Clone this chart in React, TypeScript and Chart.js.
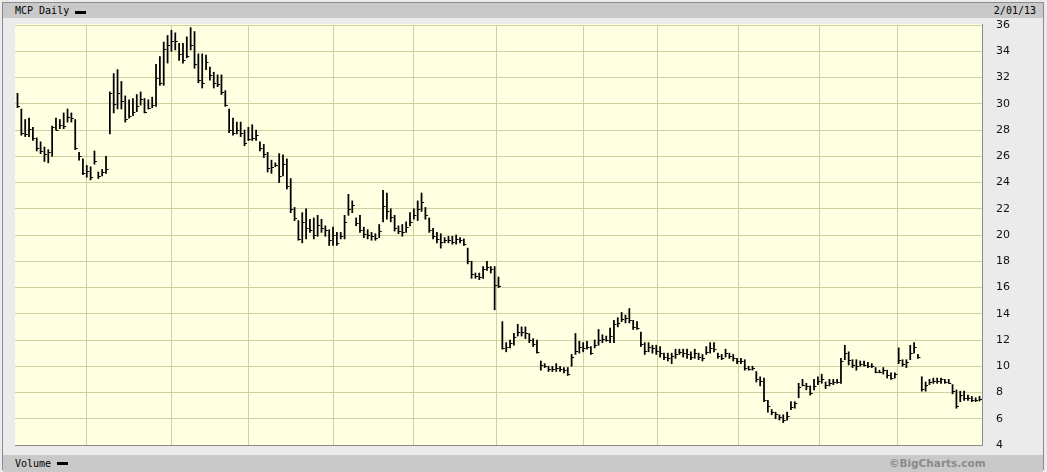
import React, { useEffect, useRef } from "react";
import { Chart, registerables } from "chart.js";

Chart.register(...registerables);

// ---- text ----
const symbolLabel = "MCP Daily";
const dateLabel = "2/01/13";
const volumeLabel = "Volume";
const creditLabel = "\u00A9BigCharts.com";

// ---- data (daily bars, Feb 3 2012 .. Feb 1 2013) ----
const highs = [
  30.8, 29.6, 28.8, 28.9, 28.2, 27.4, 27.1, 26.7, 26.5, 28.3,
  28.9, 28.8, 29.3, 29.6, 29.3, 28.8, 26.3, 25.8, 25.3, 25.2,
  26.4, 24.8, 25.0, 26.0, 30.9, 32.3, 32.6, 31.7, 30.6, 30.3,
  30.4, 30.7, 30.9, 30.4, 30.3, 30.5, 33.0, 33.6, 34.7, 35.2,
  35.6, 35.4, 34.6, 34.6, 35.1, 35.8, 35.5, 33.8, 33.8, 33.7,
  32.8, 32.4, 32.2, 32.2, 31.0, 29.6, 28.9, 28.6, 28.6, 28.0,
  28.2, 28.4, 28.0, 27.1, 26.9, 26.3, 25.7, 25.5, 26.2, 26.1,
  25.8, 24.3, 22.1, 21.1, 21.7, 22.0, 21.2, 21.3, 21.5, 21.2,
  20.7, 20.4, 20.6, 20.2, 20.2, 21.5, 23.1, 22.6, 21.3, 21.5,
  20.6, 20.4, 20.2, 20.1, 20.8, 23.4, 23.2, 22.0, 21.5, 20.7,
  20.8, 21.0, 21.7, 22.0, 22.6, 23.2, 22.1, 21.3, 20.5, 20.2,
  20.1, 19.8, 19.9, 19.9, 20.0, 19.8, 19.7, 19.0, 18.0, 17.1,
  17.1, 17.6, 18.0, 17.6, 17.6, 16.8, 13.4, 11.8, 12.0, 12.5,
  13.2, 13.0, 13.0, 12.5, 12.1, 12.0, 10.4, 10.2, 10.0, 10.0,
  10.2, 10.0, 9.9, 9.9, 10.9, 12.5, 11.9, 11.8, 11.9, 11.5,
  12.0, 12.8, 12.4, 12.3, 12.9, 13.5, 13.7, 14.1, 13.9, 14.4,
  13.5, 13.4, 12.6, 11.8, 11.8, 11.6, 11.6, 11.5, 11.0, 11.0,
  11.0, 11.3, 11.3, 11.3, 11.3, 11.1, 11.3, 11.0, 10.9, 11.5,
  11.8, 11.8, 11.0, 10.9, 11.3, 11.0, 10.9, 10.6, 10.6, 10.5,
  10.0, 10.0, 9.6, 9.2, 9.1, 7.4, 6.7, 6.5, 6.3, 6.3,
  6.5, 7.3, 7.3, 8.7, 9.0, 8.7, 8.5, 9.0, 9.2, 9.4,
  8.8, 9.0, 9.0, 9.0, 10.6, 11.6, 11.1, 10.5, 10.5, 10.4,
  10.4, 10.3, 10.2, 9.9, 9.7, 9.9, 9.7, 9.5, 9.5, 11.4,
  10.5, 10.5, 11.6, 11.8, 10.9, 9.2, 8.8, 9.0, 9.1, 9.1,
  9.1, 9.0, 9.0, 8.6, 8.2, 8.1, 8.1, 7.8, 7.7, 7.6,
  7.7,
];
const lows = [
  29.7, 27.6, 27.5, 27.5, 27.2, 26.4, 26.2, 25.6, 25.5, 26.0,
  28.0, 28.1, 28.1, 28.6, 28.6, 26.5, 25.7, 24.6, 24.4, 24.2,
  25.4, 24.3, 24.5, 24.7, 27.7, 29.3, 29.6, 29.6, 28.6, 28.9,
  29.1, 29.4, 29.9, 29.3, 29.6, 29.7, 29.8, 31.4, 31.4, 33.1,
  34.0, 34.1, 33.3, 33.1, 33.5, 34.1, 32.7, 31.6, 31.2, 32.6,
  31.8, 31.2, 31.3, 30.7, 29.8, 27.8, 27.6, 27.7, 27.5, 26.8,
  27.2, 27.2, 27.2, 26.4, 25.9, 24.8, 24.7, 25.2, 24.0, 24.5,
  23.5, 21.7, 21.1, 19.6, 19.4, 19.7, 20.2, 19.7, 19.9, 20.2,
  19.9, 19.2, 19.2, 19.2, 19.7, 19.7, 21.5, 21.7, 20.7, 20.2,
  19.8, 19.7, 19.6, 19.6, 19.8, 21.0, 21.2, 21.0, 20.3, 20.1,
  19.9, 20.2, 20.7, 21.2, 21.1, 21.8, 21.2, 20.2, 19.7, 19.4,
  19.0, 19.4, 19.4, 19.3, 19.3, 19.4, 19.2, 17.8, 16.7, 16.7,
  16.6, 16.7, 17.3, 17.1, 14.3, 16.0, 11.3, 11.1, 11.4, 11.6,
  12.3, 12.3, 12.1, 11.8, 11.5, 11.0, 9.7, 9.9, 9.6, 9.6,
  9.6, 9.6, 9.5, 9.3, 10.0, 10.9, 11.0, 11.1, 11.3, 10.9,
  11.4, 11.6, 11.8, 11.9, 11.8, 11.8, 13.0, 13.4, 13.3, 13.3,
  12.8, 12.8, 11.5, 10.9, 11.1, 11.0, 10.9, 10.7, 10.5, 10.4,
  10.2, 10.6, 10.9, 10.7, 10.6, 10.5, 10.6, 10.5, 10.4, 10.9,
  11.0, 11.1, 10.6, 10.5, 10.7, 10.6, 10.4, 10.2, 10.2, 9.7,
  9.7, 9.7, 8.8, 8.5, 7.3, 6.5, 6.3, 6.0, 5.9, 5.7,
  5.9, 6.7, 6.8, 7.6, 8.5, 8.2, 7.8, 8.2, 8.6, 8.7,
  8.3, 8.5, 8.6, 8.7, 8.7, 10.5, 10.1, 9.9, 9.7, 10.0,
  10.0, 9.9, 9.9, 9.5, 9.5, 9.4, 9.1, 9.0, 9.1, 10.2,
  10.0, 9.9, 10.5, 11.0, 10.6, 8.1, 8.1, 8.6, 8.7, 8.7,
  8.7, 8.7, 8.7, 7.9, 6.8, 7.3, 7.4, 7.4, 7.3, 7.3,
  7.35,
];
const closes = [
  29.8, 27.8, 27.7, 28.1, 27.4, 26.6, 26.4, 26.2, 26.3, 28.2,
  28.0, 28.4, 28.3, 29.0, 28.9, 26.6, 26.0, 24.7, 24.9, 24.4,
  25.6, 24.5, 24.8, 25.0, 30.8, 30.0, 30.8, 30.2, 28.8, 29.1,
  29.4, 29.8, 30.4, 29.4, 29.7, 29.9, 32.0, 31.6, 34.2, 34.5,
  34.8, 34.8, 33.8, 33.3, 33.6, 34.5, 33.0, 31.8, 31.6, 33.2,
  32.2, 31.6, 31.5, 30.9, 29.9, 28.0, 27.8, 28.0, 27.8, 27.0,
  27.3, 27.4, 27.6, 26.6, 26.2, 25.1, 25.2, 25.3, 24.5, 25.4,
  23.7, 22.0, 21.3, 19.7, 21.0, 20.5, 20.4, 20.0, 20.8, 20.5,
  20.4, 19.6, 20.0, 19.4, 19.9, 21.0, 22.0, 22.3, 20.9, 20.4,
  20.1, 20.0, 19.9, 19.8, 20.3, 22.2, 21.8, 21.4, 20.5, 20.3,
  20.2, 20.6, 21.0, 21.5, 22.0, 22.5, 21.5, 20.4, 19.9, 19.7,
  19.5, 19.6, 19.6, 19.5, 19.7, 19.6, 19.3, 18.0, 17.0, 16.9,
  16.8, 17.4, 17.6, 17.4, 16.2, 16.1, 11.4, 11.5, 11.8, 12.2,
  12.6, 12.6, 12.5, 12.0, 11.7, 11.1, 10.1, 10.0, 9.8, 9.8,
  9.9, 9.8, 9.7, 9.4, 10.7, 11.2, 11.5, 11.4, 11.5, 11.0,
  11.6, 12.0, 12.1, 12.0, 12.3, 13.2, 13.3, 13.6, 13.7, 13.5,
  13.0, 12.9, 11.7, 11.2, 11.5, 11.4, 11.2, 11.0, 10.7, 10.6,
  10.8, 10.9, 11.1, 11.0, 10.9, 10.7, 11.0, 10.7, 10.6, 11.1,
  11.4, 11.3, 10.8, 10.6, 11.0, 10.8, 10.6, 10.4, 10.4, 9.9,
  9.8, 9.9, 9.0, 8.9, 7.4, 7.0, 6.5, 6.4, 6.1, 5.9,
  6.2, 6.9, 7.2, 8.4, 8.6, 8.5, 8.0, 8.5, 8.9, 9.0,
  8.6, 8.7, 8.8, 8.8, 10.4, 11.0, 10.5, 10.1, 10.0, 10.2,
  10.1, 10.0, 10.0, 9.6, 9.6, 9.7, 9.3, 9.1, 9.4, 10.5,
  10.2, 10.3, 11.0, 11.5, 10.7, 8.3, 8.6, 8.8, 8.9, 8.9,
  9.0, 8.8, 8.7, 8.1, 7.0, 7.8, 7.6, 7.6, 7.4, 7.4,
  7.5,
];

// month-start gridlines, in bar-index units (Mar .. Jan)
const monthGridIdx = [18, 40, 60, 82, 103, 124.4, 147.2, 166.3, 187.5, 208.3, 228.6];
const yMin = 4;
const yMax = 36;
const yStep = 2;

const W = 1047;
const H = 472;

export default function App() {
  const ref = useRef<HTMLCanvasElement | null>(null);

  useEffect(() => {
    document.body.style.margin = "0";
    const canvas = ref.current;
    if (!canvas) return;

    const plotFrame = {
      id: "plotFrame",
      beforeDraw(chart: any) {
        const { ctx, chartArea: a } = chart;
        ctx.save();
        ctx.fillStyle = "#ffffe2";
        ctx.fillRect(a.left, a.top - 1, a.right - a.left, a.bottom - a.top + 1);
        ctx.restore();
      },
      afterDraw(chart: any) {
        const { ctx, chartArea: a } = chart;
        ctx.save();
        ctx.lineWidth = 1;
        ctx.strokeStyle = "#8a8a8a";
        ctx.beginPath();
        ctx.moveTo(Math.round(a.left), Math.round(a.bottom) + 0.5);
        ctx.lineTo(Math.round(a.right) + 0.5, Math.round(a.bottom) + 0.5);
        ctx.lineTo(Math.round(a.right) + 0.5, Math.round(a.top) - 1);
        ctx.stroke();
        ctx.restore();
      },
    };

    const closeTicks = {
      id: "closeTicks",
      afterDatasetsDraw(chart: any) {
        const { ctx } = chart;
        const xs = chart.scales.x;
        const ys = chart.scales.y;
        ctx.save();
        ctx.strokeStyle = "#000";
        ctx.lineWidth = 1;
        ctx.beginPath();
        closes.forEach((c, i) => {
          const px = xs.getPixelForValue(i);
          const py = Math.round(ys.getPixelForValue(c)) + 0.5;
          ctx.moveTo(px, py);
          ctx.lineTo(px + 2.5, py);
        });
        ctx.stroke();
        ctx.restore();
      },
    };

    const chart = new Chart(canvas, {
      type: "bar",
      data: {
        datasets: [
          {
            data: highs.map((h, i) => ({ x: i, y: [lows[i], h] })) as any,
            backgroundColor: "#000",
            borderWidth: 0,
            barThickness: 1.1,
            grouped: false,
          } as any,
        ],
      },
      options: {
        animation: false,
        responsive: false,
        maintainAspectRatio: false,
        events: [],
        layout: { padding: { left: 15, top: 25, right: 5, bottom: 27 } },
        plugins: { legend: { display: false }, tooltip: { enabled: false } },
        scales: {
          x: {
            type: "linear",
            min: -0.65,
            max: 250.65,
            offset: false,
            afterBuildTicks: (s: any) => {
              s.ticks = monthGridIdx.map((v) => ({ value: v }));
            },
            ticks: { display: false },
            grid: { color: "#cfcfa0", drawTicks: false, lineWidth: 1, offset: false },
            border: { display: false },
          },
          y: {
            position: "right",
            min: yMin,
            max: yMax,
            ticks: {
              stepSize: yStep,
              padding: 14,
              color: "#111",
              font: { family: "DejaVu Sans", size: 11 },
            },
            grid: { color: "#cfcfa0", drawTicks: false, lineWidth: 1 },
            border: { display: false },
            afterFit: (s: any) => {
              s.width = 60;
            },
          },
        },
      } as any,
      plugins: [plotFrame, closeTicks],
    });
    return () => chart.destroy();
  }, []);

  const mono = "'DejaVu Sans Mono', monospace";
  return (
    <div
      style={{
        position: "absolute",
        left: 0,
        top: 0,
        width: W,
        height: H,
        background: "#ebebeb",
        overflow: "hidden",
      }}
    >
      <div
        style={{
          position: "absolute",
          left: 2,
          top: 2,
          width: 1042,
          height: 468,
          borderLeft: "1px solid #8c8c8c",
          borderTop: "1px solid #8c8c8c",
          borderRight: "1px solid #8c8c8c",
          boxSizing: "border-box",
        }}
      />
      <div
        style={{
          position: "absolute",
          left: 3,
          top: 3,
          width: 1040,
          height: 15,
          background: "#c9c9c9",
        }}
      />
      <div
        style={{
          position: "absolute",
          left: 15,
          top: 4,
          font: `10px ${mono}`,
          lineHeight: "13px",
          color: "#000",
          whiteSpace: "pre",
        }}
      >
        {symbolLabel}
      </div>
      <div style={{ position: "absolute", left: 75, top: 11, width: 11, height: 3, background: "#000" }} />
      <div
        style={{
          position: "absolute",
          right: 11,
          top: 4,
          font: `10px ${mono}`,
          lineHeight: "13px",
          color: "#000",
        }}
      >
        {dateLabel}
      </div>
      <div
        style={{
          position: "absolute",
          left: 3,
          top: 455,
          width: 1040,
          height: 17,
          background: "#c9c9c9",
        }}
      />
      <div
        style={{
          position: "absolute",
          left: 15,
          top: 457,
          font: `10px ${mono}`,
          lineHeight: "13px",
          color: "#000",
        }}
      >
        {volumeLabel}
      </div>
      <div style={{ position: "absolute", left: 57, top: 462, width: 11, height: 3, background: "#000" }} />
      <div
        style={{
          position: "absolute",
          left: 889,
          top: 457,
          font: "bold 10.5px 'DejaVu Sans', sans-serif",
          lineHeight: "13px",
          color: "#8a8a8a",
        }}
      >
        {creditLabel}
      </div>
      <canvas
        ref={ref}
        width={W}
        height={H}
        style={{ position: "absolute", left: 0, top: 0, width: W, height: H }}
      />
    </div>
  );
}
